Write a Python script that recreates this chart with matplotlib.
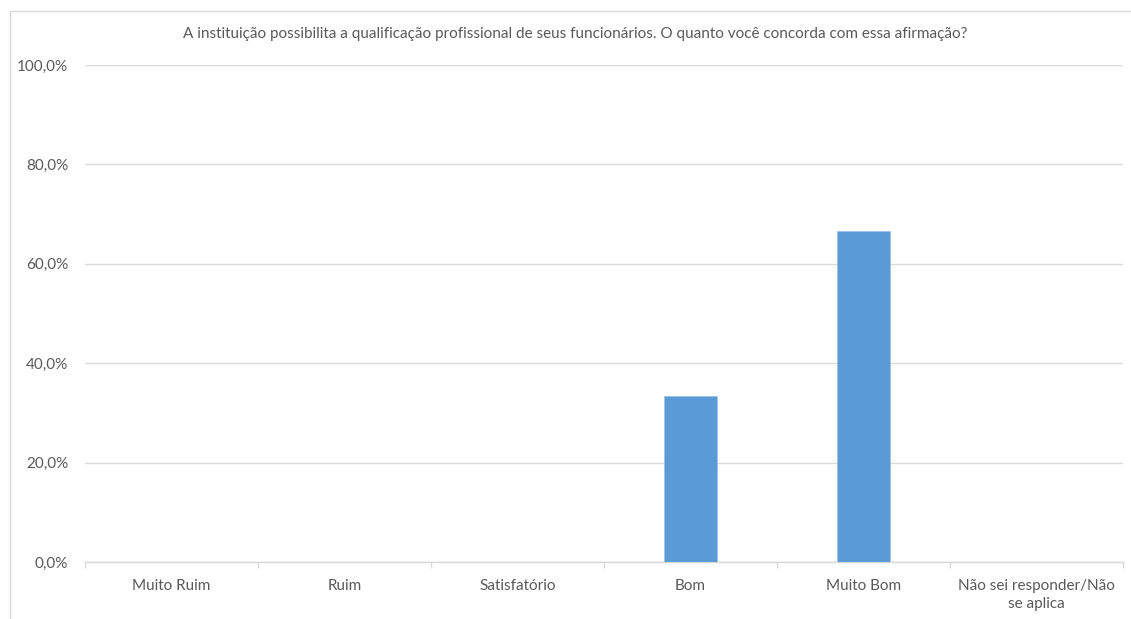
import matplotlib
matplotlib.use("Agg")
import matplotlib.pyplot as plt
from matplotlib.patches import Rectangle
from matplotlib.ticker import FuncFormatter, FixedLocator
import numpy as np

categories = ["Muito Ruim", "Ruim", "Satisfatório", "Bom", "Muito Bom", "Não sei responder/Não\nse aplica"]
values = [0.0, 0.0, 0.0, 33.3, 66.7, 0.0]
title = "A instituição possibilita a qualificação profissional de seus funcionários. O quanto você concorda com essa afirmação?"

plt.rcParams['font.family'] = ['Lato', 'DejaVu Sans']
txt = "#595959"
W, H = 1131, 619
fig = plt.figure(figsize=(W/100, H/100), dpi=100)
fig.patches.append(Rectangle((10/W, -0.1), 2, 1.1 - 11/H, transform=fig.transFigure,
                             fill=False, edgecolor="#D9D9D9", linewidth=1))
ax = fig.add_axes([85/W, 1 - 562/H, (1123-85)/W, (562-65)/H])
x = np.arange(len(categories))
ax.bar(x, values, width=0.31, color="#5B9BD5", edgecolor="#9DC3E6", linewidth=0.6, zorder=3)
ax.set_xlim(-0.5, len(categories) - 0.5)
ax.set_ylim(0, 100)
ax.set_yticks(np.arange(0, 101, 20))
ax.yaxis.set_major_formatter(FuncFormatter(lambda v, p: f"{v:.1f}%".replace(".", ",")))
ax.grid(axis="y", color="#D9D9D9", linewidth=1, zorder=0)
ax.set_xticks(x)
ax.set_xticklabels(categories, color=txt, fontsize=11, linespacing=1.35)
ax.xaxis.set_minor_locator(FixedLocator(np.arange(-0.5, len(categories), 1)))
ax.tick_params(axis="x", which="major", length=0, pad=12)
ax.tick_params(axis="x", which="minor", length=4, color="#D9D9D9", width=1)
ax.tick_params(axis="y", length=0, labelcolor=txt, labelsize=11, pad=12)
for s in ["top", "right", "left"]:
    ax.spines[s].set_visible(False)
ax.spines["bottom"].set_color("#D9D9D9")
ax.spines["bottom"].set_linewidth(1)
fig.text(575/W, 1 - 34/H, title, ha="center", va="center", color=txt, fontsize=11)
fig.savefig("out.png", dpi=100, facecolor="white")
